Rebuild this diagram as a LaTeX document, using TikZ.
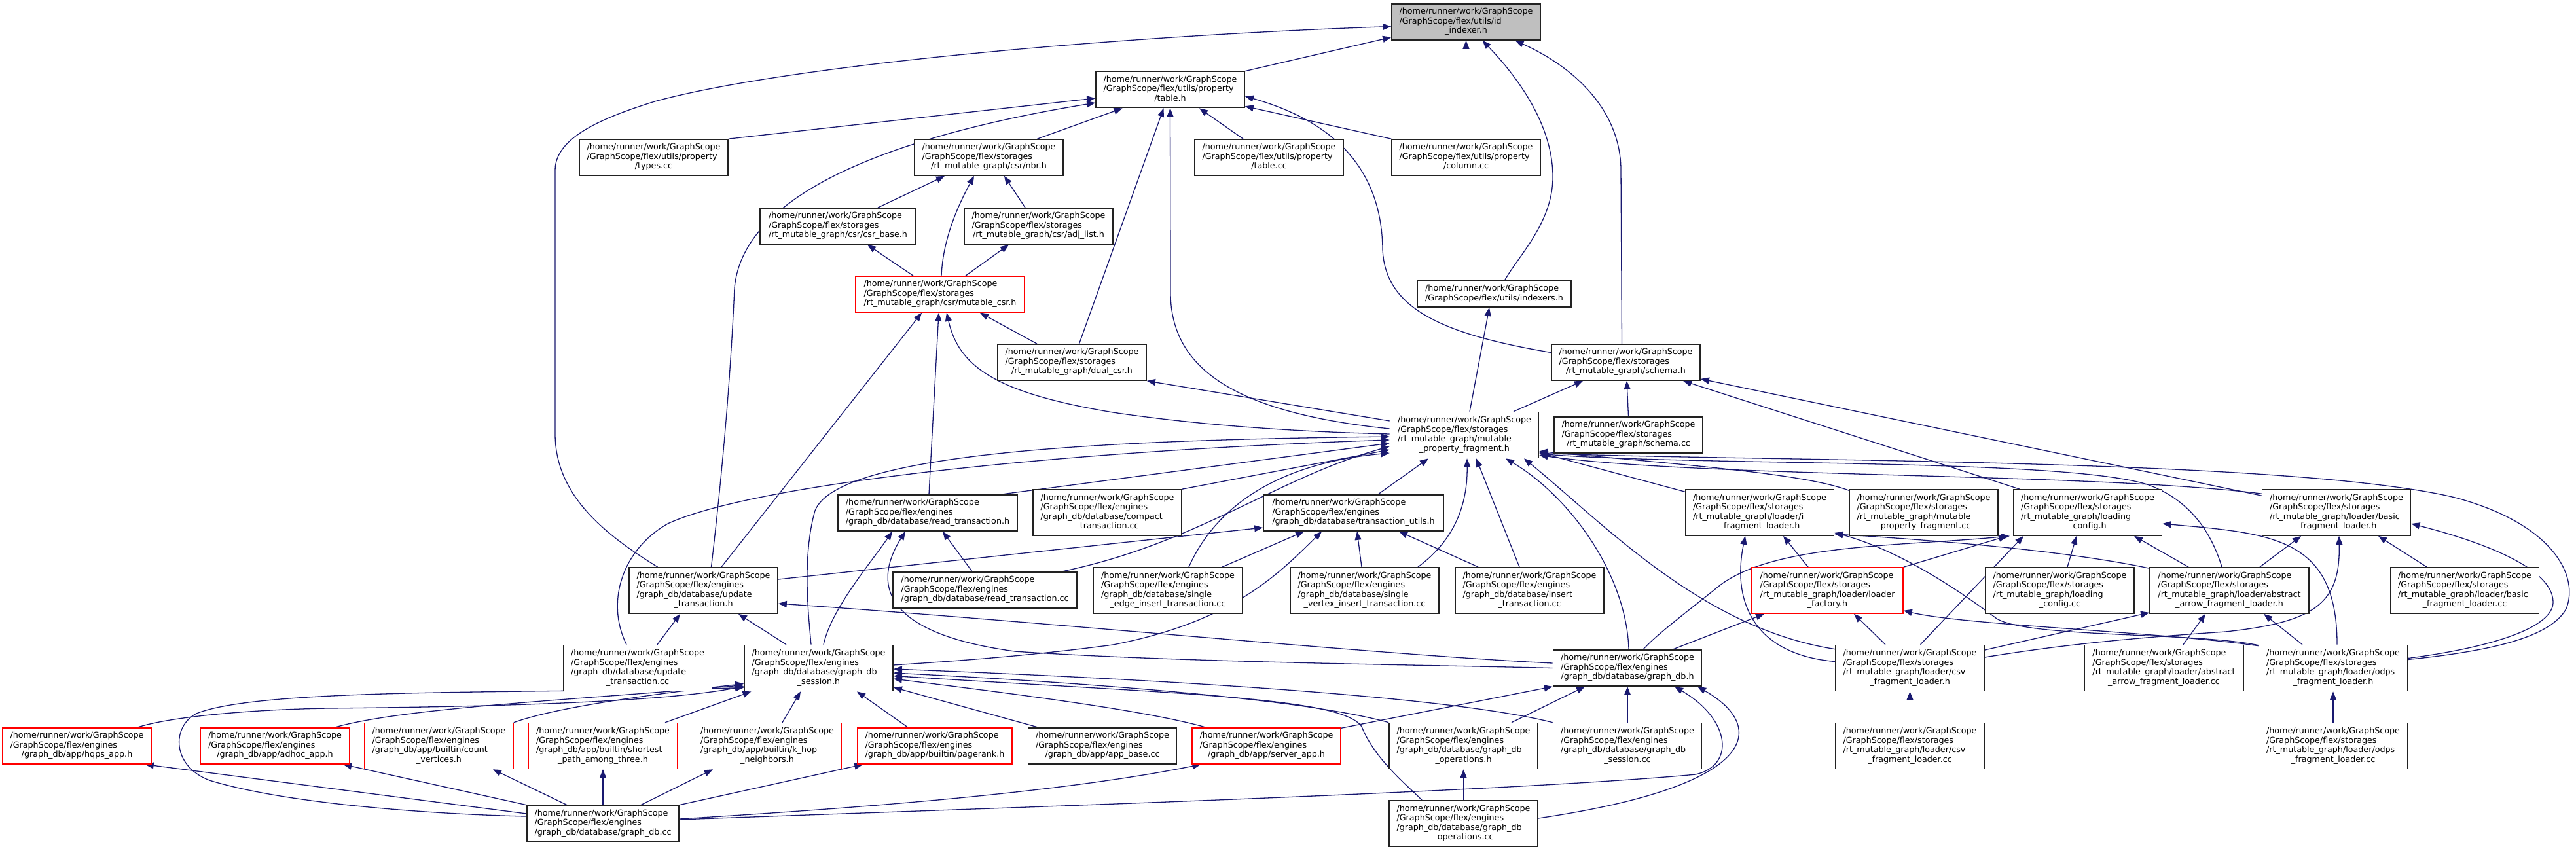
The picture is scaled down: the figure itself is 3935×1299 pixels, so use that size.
\documentclass[tikz,border=0pt]{standalone}
\usepackage{fontspec}
\setmainfont{DejaVu Sans}
\usetikzlibrary{arrows.meta}
\pgfdeclarelayer{bg}
\pgfsetlayers{bg,main}
\definecolor{eblue}{HTML}{191970}
\definecolor{bgray}{HTML}{222222}
\definecolor{fgray}{HTML}{BFBFBF}
\definecolor{bred}{HTML}{FF0000}
\newcommand{\HS}{/home/runner/work/GraphScope\\/GraphScope/flex/storages\\}
\newcommand{\HE}{/home/runner/work/GraphScope\\/GraphScope/flex/engines\\}
\newcommand{\HU}{/home/runner/work/GraphScope\\/GraphScope/flex/utils/}
\newcommand{\tx}[2]{\begin{tabular}{@{}l@{}}#1\multicolumn{1}{@{}c@{}}{#2}\end{tabular}}
\newcommand{\mk}[7]{\node[#2, minimum width=#5pt, minimum height=#6pt] (#1) at (#3,#4) {#7};}
\begin{document}
\begin{tikzpicture}[x=1pt,y=-1pt,
  bx/.style={draw=bgray, line width=1.7pt, fill=white, inner sep=0pt, font=\fontsize{12.7}{14.5}\selectfont},
  rbx/.style={bx, draw=bred, line width=1.5pt},
  gbx/.style={bx, fill=fgray},
  dep/.style={draw=eblue, line width=1.3pt, {Triangle[length=13pt,width=10pt]}-}]
\useasboundingbox (0,0) rectangle (3935,1299);
% ---------------- nodes
\mk{idx}{gbx}{2239.5}{33.5}{227}{55}{\tx{\HU id\\}{\_indexer.h}}
\mk{tableh}{bx}{1787.5}{137}{227}{55}{\tx{\HU property\\}{/table.h}}
\mk{types}{bx}{998.5}{240.5}{227}{55}{\tx{\HU property\\}{/types.cc}}
\mk{nbr}{bx}{1510.5}{240.5}{227}{55}{\tx{\HS}{/rt\_mutable\_graph/csr/nbr.h}}
\mk{tablecc}{bx}{1938.5}{240.5}{227}{55}{\tx{\HU property\\}{/table.cc}}
\mk{column}{bx}{2239.5}{240.5}{227}{55}{\tx{\HU property\\}{/column.cc}}
\mk{csrbase}{bx}{1280}{345.5}{238}{55}{\tx{\HS}{/rt\_mutable\_graph/csr/csr\_base.h}}
\mk{adjlist}{bx}{1586.5}{345.5}{227}{55}{\tx{\HS}{/rt\_mutable\_graph/csr/adj\_list.h}}
\mk{indexers}{bx}{2282.5}{449}{235}{40}{\tx{/home/runner/work/GraphScope\\}{/GraphScope/flex/utils/indexers.h}}
\mk{mcsr}{rbx}{1436}{449.5}{258}{55}{\tx{\HS}{/rt\_mutable\_graph/csr/mutable\_csr.h}}
\mk{dualcsr}{bx}{1637.5}{553.5}{227}{55}{\tx{\HS}{/rt\_mutable\_graph/dual\_csr.h}}
\mk{schemah}{bx}{2483.5}{553.5}{227}{55}{\tx{\HS}{/rt\_mutable\_graph/schema.h}}
\mk{mpf}{bx}{2237}{664.5}{227}{70}{\tx{\HS/rt\_mutable\_graph/mutable\\}{\_property\_fragment.h}}
\mk{schemacc}{bx}{2487.5}{664.5}{227}{55}{\tx{\HS}{/rt\_mutable\_graph/schema.cc}}
\mk{readh}{bx}{1417}{783.5}{274}{55}{\tx{\HE}{/graph\_db/database/read\_transaction.h}}
\mk{compact}{bx}{1691.5}{783}{227}{70}{\tx{\HE/graph\_db/database/compact\\}{\_transaction.cc}}
\mk{tutils}{bx}{2067.5}{783.5}{275}{55}{\tx{\HE}{/graph\_db/database/transaction\_utils.h}}
\mk{ifrag}{bx}{2688}{783}{227}{70}{\tx{\HS/rt\_mutable\_graph/loader/i\\}{\_fragment\_loader.h}}
\mk{mpfcc}{bx}{2938.5}{783}{227}{70}{\tx{\HS/rt\_mutable\_graph/mutable\\}{\_property\_fragment.cc}}
\mk{loadcfg}{bx}{3189}{783}{227}{70}{\tx{\HS/rt\_mutable\_graph/loading\\}{\_config.h}}
\mk{basich}{bx}{3569}{783}{227}{70}{\tx{\HS/rt\_mutable\_graph/loader/basic\\}{\_fragment\_loader.h}}
\mk{updh}{bx}{1074.5}{902}{227}{70}{\tx{\HE/graph\_db/database/update\\}{\_transaction.h}}
\mk{readcc}{bx}{1504.5}{901.5}{281}{55}{\tx{\HE}{/graph\_db/database/read\_transaction.cc}}
\mk{sedge}{bx}{1784}{902}{227}{70}{\tx{\HE/graph\_db/database/single\\}{\_edge\_insert\_transaction.cc}}
\mk{svert}{bx}{2084.5}{902}{227}{70}{\tx{\HE/graph\_db/database/single\\}{\_vertex\_insert\_transaction.cc}}
\mk{insert}{bx}{2336.5}{902}{227}{70}{\tx{\HE/graph\_db/database/insert\\}{\_transaction.cc}}
\mk{lfact}{rbx}{2791.5}{902}{231}{70}{\tx{\HS/rt\_mutable\_graph/loader/loader\\}{\_factory.h}}
\mk{loadcfgcc}{bx}{3146.5}{902}{227}{70}{\tx{\HS/rt\_mutable\_graph/loading\\}{\_config.cc}}
\mk{arrowh}{bx}{3405.5}{902}{243}{70}{\tx{\HS/rt\_mutable\_graph/loader/abstract\\}{\_arrow\_fragment\_loader.h}}
\mk{basiccc}{bx}{3765}{902}{227}{70}{\tx{\HS/rt\_mutable\_graph/loader/basic\\}{\_fragment\_loader.cc}}
\mk{updcc}{bx}{974}{1020.5}{227}{70}{\tx{\HE/graph\_db/database/update\\}{\_transaction.cc}}
\mk{sessh}{bx}{1250.5}{1020.5}{227}{70}{\tx{\HE/graph\_db/database/graph\_db\\}{\_session.h}}
\mk{gdbh}{bx}{2486}{1020.5}{227}{55}{\tx{\HE}{/graph\_db/database/graph\_db.h}}
\mk{csvh}{bx}{2917.5}{1020.5}{227}{70}{\tx{\HS/rt\_mutable\_graph/loader/csv\\}{\_fragment\_loader.h}}
\mk{arrowcc}{bx}{3305.5}{1020.5}{243}{70}{\tx{\HS/rt\_mutable\_graph/loader/abstract\\}{\_arrow\_fragment\_loader.cc}}
\mk{odpsh}{bx}{3564}{1020.5}{227}{70}{\tx{\HS/rt\_mutable\_graph/loader/odps\\}{\_fragment\_loader.h}}
\mk{hqps}{rbx}{117.5}{1139.5}{227}{55}{\tx{\HE}{/graph\_db/app/hqps\_app.h}}
\mk{adhoc}{rbx}{420}{1139.5}{227}{55}{\tx{\HE}{/graph\_db/app/adhoc\_app.h}}
\mk{count}{rbx}{670.5}{1139.5}{227}{70}{\tx{\HE/graph\_db/app/builtin/count\\}{\_vertices.h}}
\mk{shortest}{rbx}{921}{1139.5}{227}{70}{\tx{\HE/graph\_db/app/builtin/shortest\\}{\_path\_among\_three.h}}
\mk{khop}{rbx}{1172}{1139.5}{227}{70}{\tx{\HE/graph\_db/app/builtin/k\_hop\\}{\_neighbors.h}}
\mk{pagerank}{rbx}{1428}{1139.5}{236}{55}{\tx{\HE}{/graph\_db/app/builtin/pagerank.h}}
\mk{appbase}{bx}{1684}{1139.5}{227}{55}{\tx{\HE}{/graph\_db/app/app\_base.cc}}
\mk{server}{rbx}{1934.5}{1139.5}{227}{55}{\tx{\HE}{/graph\_db/app/server\_app.h}}
\mk{opsh}{bx}{2235.5}{1139.5}{227}{70}{\tx{\HE/graph\_db/database/graph\_db\\}{\_operations.h}}
\mk{sesscc}{bx}{2486}{1139.5}{227}{70}{\tx{\HE/graph\_db/database/graph\_db\\}{\_session.cc}}
\mk{csvcc}{bx}{2917.5}{1139.5}{227}{70}{\tx{\HS/rt\_mutable\_graph/loader/csv\\}{\_fragment\_loader.cc}}
\mk{odpscc}{bx}{3564}{1139.5}{227}{70}{\tx{\HS/rt\_mutable\_graph/loader/odps\\}{\_fragment\_loader.cc}}
\mk{gdbcc}{bx}{921}{1258}{232}{55}{\tx{\HE}{/graph\_db/database/graph\_db.cc}}
\mk{opscc}{bx}{2235.5}{1258}{227}{70}{\tx{\HE/graph\_db/database/graph\_db\\}{\_operations.cc}}
% ---------------- edges
\begin{pgfonlayer}{bg}
\fill[white] (0,0) rectangle (3935,1299);
% id_indexer.h
\draw[dep] ([yshift=5pt]idx.south west) -- (tableh.north east);
\draw[dep] ([yshift=-7pt]idx.west) .. controls (1700,55) and (1200,100) .. (1000,155) .. controls (920,180) and (848,210) .. (848,260) -- (848,663) .. controls (848,760) and (930,820) .. ([xshift=-70pt]updh.north);
\draw[dep] (idx.south) -- (column.north);
\draw[dep] ([xshift=25pt]idx.south) .. controls (2330,130) and (2372,200) .. (2372,270) .. controls (2372,340) and (2320,390) .. ([xshift=16pt]indexers.north);
\draw[dep] ([xshift=75pt]idx.south) .. controls (2420,110) and (2476,180) .. (2476,260) -- ([xshift=-6pt]schemah.north);
% table.h
\draw[dep] ([yshift=-13pt]tableh.west) -- (types.north east);
\draw[dep] ([yshift=-20pt]tableh.west) .. controls (1380,205) and (1135,290) .. (1122,440) .. controls (1115,600) and (1100,750) .. ([xshift=12pt]updh.north);
\draw[dep] ([xshift=-73pt]tableh.south) -- ([xshift=74pt]nbr.north);
\draw[dep] ([xshift=-10pt]tableh.south) -- ([xshift=11pt]dualcsr.north);
\draw[dep] (tableh.south) -- (1788,450) .. controls (1790,560) and (1880,630) .. ([yshift=9.5pt]mpf.west);
\draw[dep] ([xshift=44.5pt]tableh.south) -- ([xshift=-39.5pt]tablecc.north);
\draw[dep] ([yshift=3pt]tableh.south east) -- (column.north west);
\draw[dep] ([yshift=-10pt]tableh.east) .. controls (2000,175) and (2110,230) .. (2112,380) .. controls (2115,470) and (2200,510) .. ([yshift=15pt]schemah.west);
% nbr.h
\draw[dep] ([xshift=-67.5pt]nbr.south) -- ([xshift=61pt]csrbase.north);
\draw[dep] ([xshift=-22.5pt]nbr.south) .. controls (1460,320) and (1440,370) .. ([xshift=2pt]mcsr.north);
\draw[dep] ([xshift=23.5pt]nbr.south) -- ([xshift=-20.5pt]adjlist.north);
\draw[dep] ([xshift=45pt]csrbase.south) -- ([xshift=-41pt]mcsr.north);
\draw[dep] ([xshift=-45.5pt]adjlist.south) -- ([xshift=39pt]mcsr.north);
% mutable_csr.h
\draw[dep] ([xshift=-28pt]mcsr.south) -- ([xshift=27.5pt]updh.north);
\draw[dep] ([xshift=-2pt]mcsr.south) -- ([xshift=2pt]readh.north);
\draw[dep] ([xshift=10pt]mcsr.south) .. controls (1465,560) and (1520,600) .. (1700,630) .. controls (1850,652) and (2000,660) .. ([yshift=1.5pt]mpf.west);
\draw[dep] ([xshift=61pt]mcsr.south) -- ([xshift=-53.5pt]dualcsr.north);
\draw[dep] (dualcsr.south east) -- ([yshift=21.5pt]mpf.west);
% indexers / schema
\draw[dep] ([xshift=-7.5pt]indexers.south) -- ([xshift=8pt]mpf.north);
\draw[dep] ([xshift=-65.5pt]schemah.south) -- ([xshift=75pt]mpf.north);
\draw[dep] ([xshift=1.5pt]schemah.south) -- (schemacc.north);
\draw[dep] ([xshift=87.5pt]schemah.south) -- ([xshift=-104pt]loadcfg.north);
\draw[dep] ([yshift=3pt]schemah.south east) -- ([yshift=-10pt]basich.north west);
% mutable_property_fragment.h, left side
\draw[dep] ([yshift=-2.5pt]mpf.west) .. controls (1700,672) and (1280,690) .. (1245,780) .. controls (1225,850) and (1235,940) .. ([xshift=-11.5pt]sessh.north);
\draw[dep] ([yshift=-7.5pt]mpf.west) .. controls (1600,690) and (1150,740) .. (1020,800) .. controls (950,840) and (925,920) .. ([xshift=-17pt]updcc.north);
\draw[dep] ([yshift=-12.5pt]mpf.west) -- ([xshift=112pt]readh.north);
\draw[dep] ([yshift=-17.5pt]mpf.west) .. controls (1950,730) and (1830,830) .. ([xshift=117pt]readcc.north);
\draw[dep] ([yshift=-22.5pt]mpf.west) -- (compact.north east);
\draw[dep] ([yshift=-27.5pt]mpf.west) .. controls (1930,710) and (1850,790) .. ([xshift=32pt]sedge.north);
% mpf bottom
\draw[dep] ([xshift=-55pt]mpf.south) -- ([xshift=37.5pt]tutils.north);
\draw[dep] ([xshift=4pt]mpf.south) .. controls (2242,780) and (2215,830) .. ([xshift=81.5pt]svert.north);
\draw[dep] ([xshift=18pt]mpf.south) -- ([xshift=-15.5pt]insert.north);
\draw[dep] ([xshift=63pt]mpf.south) .. controls (2400,760) and (2485,880) .. ([xshift=2pt]gdbh.north);
\draw[dep] ([xshift=91pt]mpf.south) .. controls (2450,800) and (2600,960) .. ([yshift=-7pt]csvh.north west);
% mpf right
\draw[dep] ([yshift=9pt]mpf.south east) -- ([yshift=-4pt]ifrag.north west);
\draw[dep] ([yshift=11pt]mpf.south east) .. controls (2600,712) and (2760,725) .. ([yshift=-2pt]mpfcc.north west);
\draw[dep] ([yshift=7pt]mpf.south east) .. controls (2600,712) and (3150,700) .. (3280,740) .. controls (3350,765) and (3380,820) .. ([xshift=-11.5pt]arrowh.north);
\draw[dep] ([yshift=5pt]mpf.south east) .. controls (2600,730) and (3200,722) .. ([yshift=-7pt]basich.north west);
\draw[dep] ([yshift=8pt]mpf.south east) .. controls (2700,705) and (3500,700) .. (3750,760) .. controls (3900,800) and (3940,880) .. (3920,930) .. controls (3895,975) and (3800,995) .. ([yshift=13pt]odpsh.east);
% i_fragment_loader.h
\draw[dep] ([xshift=-22pt]ifrag.south) .. controls (2645,920) and (2680,1000) .. ([yshift=10pt]csvh.west);
\draw[dep] ([xshift=36pt]ifrag.south) -- ([xshift=-29.5pt]lfact.north);
\draw[dep] ([yshift=3pt]ifrag.south east) .. controls (2950,825) and (3150,840) .. ([yshift=-2pt]arrowh.north west);
\draw[dep] ([yshift=5pt]ifrag.south east) .. controls (2900,840) and (2990,900) .. (3050,945) .. controls (3100,975) and (3350,965) .. ([yshift=-1pt]odpsh.north west);
% loader_factory.h
\draw[dep] ([xshift=-96.5pt]lfact.south) -- ([xshift=69pt]gdbh.north);
\draw[dep] ([xshift=40.5pt]lfact.south) -- ([xshift=-37.5pt]csvh.north);
\draw[dep] ([yshift=5pt]lfact.south east) .. controls (3000,955) and (3300,965) .. ([yshift=-2pt]odpsh.north west);
% loading_config.h
\draw[dep] ([xshift=-123pt]loadcfg.south) -- (lfact.north east);
\draw[dep] ([xshift=-119pt]loadcfg.south) .. controls (2900,835) and (2700,830) .. (2620,900) .. controls (2570,940) and (2530,970) .. ([xshift=24pt]gdbh.north);
\draw[dep] ([xshift=-98pt]loadcfg.south) -- ([xshift=16pt]csvh.north);
\draw[dep] ([xshift=-17pt]loadcfg.south) -- ([xshift=11.5pt]loadcfgcc.north);
\draw[dep] ([xshift=71pt]loadcfg.south) -- ([xshift=-62.5pt]arrowh.north);
\draw[dep] ([yshift=-17pt]loadcfg.east) .. controls (3470,815) and (3570,820) .. ([xshift=6pt]odpsh.north);
% abstract_arrow_fragment_loader.h
\draw[dep] ([yshift=2pt]arrowh.south west) -- ([yshift=27.5pt]csvh.east);
\draw[dep] ([xshift=-36.5pt]arrowh.south) -- ([xshift=29.5pt]arrowcc.north);
\draw[dep] ([xshift=52.5pt]arrowh.south) -- ([xshift=-47pt]odpsh.north);
% basic_fragment_loader.h
\draw[dep] ([xshift=-54pt]basich.south) -- ([xshift=46.5pt]arrowh.north);
\draw[dep] ([xshift=4pt]basich.south) .. controls (3575,920) and (3540,950) .. (3400,965) .. controls (3250,975) and (3150,985) .. ([yshift=16.5pt]csvh.east);
\draw[dep] ([xshift=64pt]basich.south) -- ([xshift=-58pt]basiccc.north);
\draw[dep] ([yshift=-17pt]basich.east) .. controls (3800,830) and (3900,870) .. (3900,920) .. controls (3900,960) and (3800,990) .. ([yshift=15pt]odpsh.east);
\draw[dep] (odpsh.south) -- (odpscc.north);
\draw[dep] (csvh.south) -- (csvcc.north);
% transaction_utils.h
\draw[dep] ([yshift=-22.5pt]tutils.west) -- ([yshift=17pt]updh.east);
\draw[dep] ([xshift=-48.5pt]tutils.south) .. controls (1950,880) and (1880,950) .. (1700,985) .. controls (1550,1005) and (1420,1012) .. ([yshift=4.5pt]sessh.east);
\draw[dep] ([xshift=-75.5pt]tutils.south) -- ([xshift=83pt]sedge.north);
\draw[dep] ([xshift=5.5pt]tutils.south) -- ([xshift=-4.5pt]svert.north);
\draw[dep] ([xshift=69.5pt]tutils.south) -- ([xshift=-78.5pt]insert.north);
% read_transaction.h
\draw[dep] ([xshift=-54pt]readh.south) .. controls (1330,860) and (1270,930) .. ([xshift=7.5pt]sessh.north);
\draw[dep] ([xshift=-34pt]readh.south) .. controls (1340,880) and (1330,965) .. (1550,995) .. controls (1800,1012) and (2200,1016) .. (gdbh.west);
\draw[dep] ([xshift=23pt]readh.south) -- ([xshift=-19.5pt]readcc.north);
% update_transaction.h
\draw[dep] ([xshift=-35.5pt]updh.south) -- ([xshift=30pt]updcc.north);
\draw[dep] ([xshift=53.5pt]updh.south) -- ([xshift=-49.5pt]sessh.north);
\draw[dep] ([yshift=-20pt]updh.east) .. controls (1600,950) and (2100,1000) .. ([yshift=7.5pt]gdbh.west);
% graph_db_session.h
\draw[dep] ([yshift=-28pt]sessh.west) .. controls (1000,1075) and (700,1080) .. (500,1082) .. controls (380,1084) and (260,1095) .. ([xshift=92pt]hqps.north);
\draw[dep] ([yshift=-26pt]sessh.west) .. controls (900,1068) and (620,1080) .. ([xshift=91pt]adhoc.north);
\draw[dep] ([yshift=-24pt]sessh.west) .. controls (1000,1060) and (850,1080) .. (count.north east);
\draw[dep] ([yshift=-30pt]sessh.west) .. controls (800,1060) and (400,1050) .. (300,1090) .. controls (262,1110) and (262,1170) .. (320,1192) .. controls (450,1232) and (700,1245) .. ([yshift=11pt]gdbcc.west);
\draw[dep] ([xshift=-103pt]sessh.south) -- ([xshift=95pt]shortest.north);
\draw[dep] ([xshift=-27.5pt]sessh.south) -- ([xshift=23pt]khop.north);
\draw[dep] ([xshift=58.5pt]sessh.south) -- ([xshift=-41pt]pagerank.north);
\draw[dep] ([yshift=-29.5pt]sessh.east) -- ([xshift=-98pt]appbase.north);
\draw[dep] ([yshift=-16.5pt]sessh.east) .. controls (1550,1060) and (1750,1085) .. ([xshift=-92pt]server.north);
\draw[dep] ([yshift=-1.5pt]sessh.east) .. controls (1700,1035) and (2200,1060) .. (sesscc.north west);
\draw[dep] ([yshift=-7.5pt]sessh.east) .. controls (1700,1045) and (2000,1070) .. (opsh.north west);
\draw[dep] ([yshift=-12pt]sessh.east) .. controls (1800,1060) and (2050,1065) .. (2080,1110) .. controls (2100,1160) and (2150,1200) .. ([xshift=-63.5pt]opscc.north);
% apps -> graph_db.cc
\draw[dep] ([xshift=-10pt]hqps.south east) -- ([yshift=15pt]gdbcc.west);
\draw[dep] ([xshift=-10pt]adhoc.south east) -- (gdbcc.north west);
\draw[dep] ([xshift=82.5pt]count.south) -- ([xshift=-55pt]gdbcc.north);
\draw[dep] (shortest.south) -- (gdbcc.north);
\draw[dep] ([xshift=-83pt]khop.south) -- ([xshift=58pt]gdbcc.north);
\draw[dep] ([xshift=9pt]pagerank.south west) -- (gdbcc.north east);
\draw[dep] ([xshift=14pt]server.south west) .. controls (1600,1215) and (1250,1238) .. ([yshift=7pt]gdbcc.east);
% graph_db.h
\draw[dep] ([xshift=72pt]gdbh.south) .. controls (2645,1100) and (2650,1170) .. (2590,1183) .. controls (2300,1210) and (1500,1235) .. ([yshift=6pt]gdbcc.east);
\draw[dep] ([xshift=107pt]gdbh.south) .. controls (2700,1110) and (2690,1200) .. ([yshift=8pt]opscc.east);
\draw[dep] (gdbh.south west) -- ([yshift=-1pt]server.north east);
\draw[dep] ([xshift=-65pt]gdbh.south) -- ([xshift=73.5pt]opsh.north);
\draw[dep] (gdbh.south) -- (sesscc.north);
\draw[dep] (opsh.south) -- (opscc.north);
\end{pgfonlayer}
\end{tikzpicture}
\end{document}
